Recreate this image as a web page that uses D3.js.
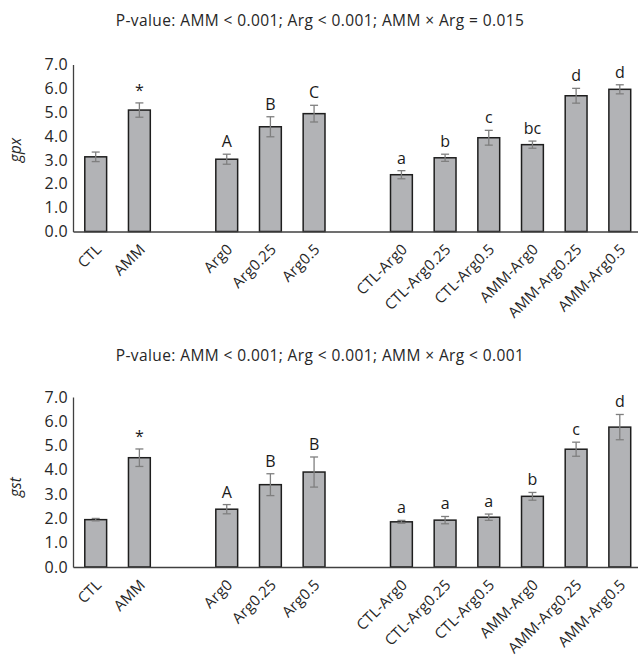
<!DOCTYPE html>
<html>
<head>
<meta charset="utf-8">
<script src="https://cdn.jsdelivr.net/npm/d3@7"></script>
<style>
  html, body { margin: 0; padding: 0; background: #fff; }
  svg { display: block; font-family: "Open Sans", Lato, sans-serif; }
</style>
</head>
<body>
<svg id="chart" width="638" height="658"></svg>
<script>
// Treatment groups, shown as three clusters separated by an empty slot
const categories = ["CTL", "AMM", "Arg0", "Arg0.25", "Arg0.5",
  "CTL-Arg0", "CTL-Arg0.25", "CTL-Arg0.5", "AMM-Arg0", "AMM-Arg0.25", "AMM-Arg0.5"];
const groupSizes = [2, 3, 6];

// gpx relative expression (mean ± SE) with significance letters
const gpxMeans   = [3.13, 5.09, 3.03, 4.39, 4.94, 2.38, 3.09, 3.93, 3.64, 5.69, 5.96];
const gpxErrors  = [0.20, 0.30, 0.21, 0.42, 0.35, 0.17, 0.15, 0.31, 0.15, 0.31, 0.19];
const gpxLetters = ["", "*", "A", "B", "C", "a", "b", "c", "bc", "d", "d"];
const gpxTitle   = "P-value: AMM < 0.001; Arg < 0.001; AMM × Arg = 0.015";

// gst relative expression (mean ± SE) with significance letters
const gstMeans   = [1.95, 4.50, 2.38, 3.39, 3.91, 1.86, 1.93, 2.05, 2.91, 4.85, 5.76];
const gstErrors  = [0.05, 0.36, 0.19, 0.45, 0.62, 0.06, 0.15, 0.13, 0.16, 0.29, 0.52];
const gstLetters = ["", "*", "A", "B", "B", "a", "a", "a", "b", "c", "d"];
const gstTitle   = "P-value: AMM < 0.001; Arg < 0.001; AMM × Arg < 0.001";

const yTicks = [0, 1, 2, 3, 4, 5, 6, 7];

const svg = d3.select("#chart");
const FONT = "'Open Sans', Lato, sans-serif";

// Slot keys: categories plus a blank slot between clusters
const slots = [];
let k = 0;
groupSizes.forEach((n, gi) => {
  for (let i = 0; i < n; i++) slots.push(categories[k++]);
  if (gi < groupSizes.length - 1) slots.push("__gap" + gi);
});

const x = d3.scaleBand()
  .domain(slots)
  .range([73, 642.5])
  .paddingInner(0.5)
  .paddingOuter(0.27);

function drawPanel(opts) {
  const { means, errors, letters, title, yLabel, yRange, titleY, yLabelY } = opts;
  const g = svg.append("g");
  const y = d3.scaleLinear().domain([0, 7]).range(yRange);
  const base = y(0);

  const rows = categories.map((c, i) => ({ c, m: means[i], e: errors[i], l: letters[i] }));

  // title
  g.append("text")
    .attr("x", 320).attr("y", titleY)
    .attr("text-anchor", "middle")
    .attr("font-size", 15.5).attr("letter-spacing", 0.4).attr("fill", "#262626")
    .text(title);

  // y axis
  const ya = g.append("g")
    .attr("transform", `translate(${x.range()[0]},0)`)
    .call(d3.axisLeft(y).tickValues(yTicks).tickFormat(d3.format(".1f")).tickSize(0).tickSizeOuter(0).tickPadding(5));
  ya.select(".domain").attr("stroke", "#404040").attr("stroke-width", 1.3);
  ya.selectAll("text").attr("font-size", 16).attr("letter-spacing", 0.3).attr("fill", "#262626").attr("font-family", FONT);

  // y axis title
  g.append("text")
    .attr("transform", `translate(20.5,${yLabelY}) rotate(-90)`)
    .attr("text-anchor", "middle")
    .attr("font-size", 15.5).attr("font-style", "italic").attr("fill", "#262626")
    .text(yLabel);

  // bars
  g.append("g").selectAll("rect").data(rows).join("rect")
    .attr("x", d => x(d.c))
    .attr("width", x.bandwidth())
    .attr("y", d => y(d.m))
    .attr("height", d => base - y(d.m))
    .attr("fill", "#b2b3b6")
    .attr("stroke", "#1e1e1e")
    .attr("stroke-width", 1.5);

  // error bars
  const eb = g.append("g").attr("stroke", "#7f7f7f").attr("stroke-width", 1.3).attr("fill", "none");
  const cap = 4;
  rows.forEach(d => {
    const cx = x(d.c) + x.bandwidth() / 2;
    const t = y(d.m + d.e), b = y(d.m - d.e);
    eb.append("line").attr("x1", cx).attr("x2", cx).attr("y1", t).attr("y2", b);
    eb.append("line").attr("x1", cx - cap).attr("x2", cx + cap).attr("y1", t).attr("y2", t);
    eb.append("line").attr("x1", cx - cap).attr("x2", cx + cap).attr("y1", b).attr("y2", b);
  });

  // significance letters
  g.append("g").selectAll("text").data(rows.filter(d => d.l)).join("text")
    .attr("x", d => x(d.c) + x.bandwidth() / 2)
    .attr("y", d => y(d.m + d.e) - 7)
    .attr("text-anchor", "middle")
    .attr("font-size", 16).attr("fill", "#1a1a1a")
    .text(d => d.l);

  // x axis
  const xa = g.append("g")
    .attr("transform", `translate(0,${base})`)
    .call(d3.axisBottom(x).tickValues(categories).tickSize(0).tickSizeOuter(0));
  xa.select(".domain").attr("stroke", "#404040").attr("stroke-width", 1.3);
  xa.selectAll("text")
    .attr("font-size", 15).attr("letter-spacing", 0.2).attr("fill", "#262626").attr("font-family", FONT)
    .attr("text-anchor", "end")
    .attr("x", 3).attr("y", 15).attr("dy", "0.35em")
    .attr("transform", "rotate(-45, 3, 15)");
}

drawPanel({
  means: gpxMeans, errors: gpxErrors, letters: gpxLetters, title: gpxTitle,
  yLabel: "gpx", yRange: [231.5, 64.5], titleY: 26, yLabelY: 150
});

drawPanel({
  means: gstMeans, errors: gstErrors, letters: gstLetters, title: gstTitle,
  yLabel: "gst", yRange: [567, 397], titleY: 361, yLabelY: 487
});
</script>
</body>
</html>
